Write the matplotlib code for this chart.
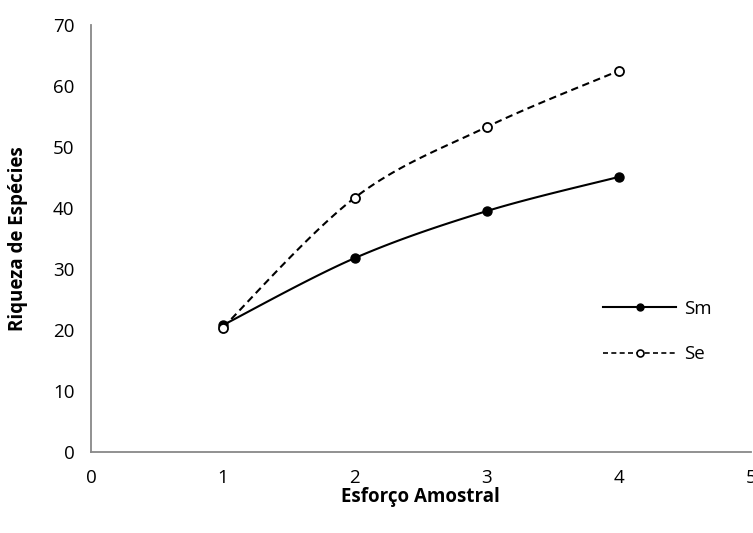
import numpy as np
import matplotlib
matplotlib.use("Agg")
import matplotlib.pyplot as plt
from matplotlib.lines import Line2D

plt.rcParams['font.family'] = ['Open Sans', 'DejaVu Sans']

effort = [1, 2, 3, 4]
sm_values = [20.8, 31.8, 39.5, 45.1]
se_values = [20.4, 41.7, 53.3, 62.5]
x_ticks = [0, 1, 2, 3, 4, 5]
y_ticks = [0, 10, 20, 30, 40, 50, 60, 70]


def smooth(xs, ys, n=40):
    """Catmull-Rom style smoothed path through the points (spreadsheet 'smoothed line')."""
    xs = np.asarray(xs, float)
    ys = np.asarray(ys, float)
    px = np.concatenate([[xs[0]], xs, [xs[-1]]])
    py = np.concatenate([[ys[0]], ys, [ys[-1]]])
    outx, outy = [], []
    t = np.linspace(0, 1, n)
    for i in range(1, len(px) - 2):
        p0 = np.array([px[i], py[i]])
        p3 = np.array([px[i + 1], py[i + 1]])
        c1 = p0 + (np.array([px[i + 1], py[i + 1]]) - np.array([px[i - 1], py[i - 1]])) / 6
        c2 = p3 - (np.array([px[i + 2], py[i + 2]]) - np.array([px[i], py[i]])) / 6
        b = ((1 - t) ** 3)[:, None] * p0 + (3 * (1 - t) ** 2 * t)[:, None] * c1 \
            + (3 * (1 - t) * t ** 2)[:, None] * c2 + (t ** 3)[:, None] * p3
        outx.extend(b[:, 0])
        outy.extend(b[:, 1])
    return np.array(outx), np.array(outy)


fig = plt.figure(figsize=(7.53, 5.33), dpi=100)
ax = fig.add_axes([0.1209, 0.152, 0.876, 0.801])

lw = 1.5
sx, sy = smooth(effort, sm_values)
ax.plot(sx, sy, color='black', lw=lw, solid_capstyle='round')
ax.plot(effort, sm_values, 'o', color='black', ms=6.5, zorder=3)

ex, ey = smooth(effort, se_values)
ax.plot(ex, ey, color='black', lw=lw, linestyle=(0, (3.5, 2.2)))
ax.plot(effort, se_values, 'o', mfc='white', mec='black', mew=1.3, ms=6.5, zorder=3)

ax.set_xlim(0, 5)
ax.set_ylim(0, 70)
ax.set_xticks(x_ticks)
ax.set_yticks(y_ticks)
ax.tick_params(length=0, labelsize=13.5, colors='black')
ax.tick_params(axis='y', pad=12)
ax.tick_params(axis='x', pad=12)
for side in ['top', 'right']:
    ax.spines[side].set_visible(False)
for side in ['left', 'bottom']:
    ax.spines[side].set_color('#888888')
    ax.spines[side].set_linewidth(1.3)

ax.set_xlabel('Esforço Amostral', fontsize=13.5, fontweight='bold', labelpad=0)
ax.set_ylabel('Riqueza de Espécies', fontsize=13.5, fontweight='bold', labelpad=18)

handles = [
    Line2D([], [], color='black', lw=lw, marker='o', ms=5, mfc='black', mec='black'),
    Line2D([], [], color='black', lw=1.2, linestyle=(0, (3, 2)), marker='o', ms=5,
           mfc='white', mec='black', mew=1.2),
]
ax.legend(handles, ['Sm', 'Se'], loc='center left', bbox_to_anchor=(0.751, 0.282),
          frameon=False, fontsize=13.5, handlelength=3.9, handletextpad=0.4,
          labelspacing=1.45)

fig.savefig('out.png', dpi=100)
